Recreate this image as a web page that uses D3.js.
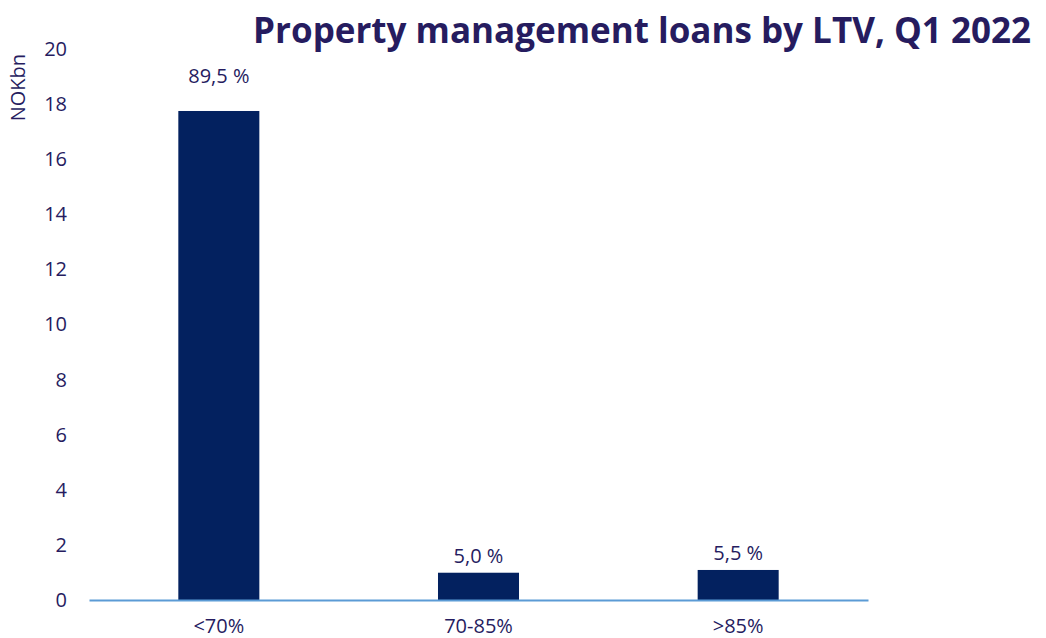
<!DOCTYPE html>
<html>
<head>
<meta charset="utf-8">
<script src="https://cdn.jsdelivr.net/npm/d3@7"></script>
<style>
  html, body { margin: 0; padding: 0; background: #ffffff; }
  svg { display: block; }
</style>
</head>
<body>
<svg id="chart" width="1046" height="638"></svg>
<script>
// LTV buckets and loan volumes (NOK bn), with each bucket's share of the total
const categories = ["<70%", "70-85%", ">85%"];
const volumes = [17.75, 0.99, 1.09];
const shares = ["89,5 %", "5,0 %", "5,5 %"];
const yTicks = [0, 2, 4, 6, 8, 10, 12, 14, 16, 18, 20];
const titleText = "Property management loans by LTV, Q1 2022";
const yAxisLabel = "NOKbn";

const W = 1046, H = 638;
const margin = { left: 89, right: 178, top: 49, bottom: 38 };
const textColor = "#261c5f";
const barColor = "#03215f";
const axisColor = "#5b9bd5";
const font = "'Open Sans', 'Liberation Sans', sans-serif";

const svg = d3.select("#chart");

const x = d3.scaleBand()
  .domain(categories)
  .range([margin.left, W - margin.right])
  .paddingInner(0.688)
  .paddingOuter(0.344);

const y = d3.scaleLinear()
  .domain([0, 20])
  .range([H - margin.bottom, margin.top]);

// Title
svg.append("text")
  .attr("x", 1031)
  .attr("y", 43)
  .attr("text-anchor", "end")
  .attr("font-family", font)
  .attr("font-weight", 700)
  .attr("font-size", 35)
  .attr("fill", textColor)
  .text(titleText);

// Y axis: labels only, no line or tick marks
const yAxis = d3.axisLeft(y).tickValues(yTicks).tickSize(0).tickPadding(22);
const gy = svg.append("g")
  .attr("transform", `translate(${margin.left},0)`)
  .call(yAxis);
gy.select(".domain").remove();
gy.selectAll("text")
  .attr("font-family", font)
  .attr("font-size", 20)
  .attr("fill", textColor);

// Y axis title
svg.append("text")
  .attr("transform", `translate(25,${y(18.6)}) rotate(-90)`)
  .attr("text-anchor", "middle")
  .attr("font-family", font)
  .attr("font-size", 20)
  .attr("fill", textColor)
  .text(yAxisLabel);

// Bars
svg.append("g")
  .selectAll("rect")
  .data(categories)
  .join("rect")
  .attr("x", d => x(d))
  .attr("width", x.bandwidth())
  .attr("y", (d, i) => y(volumes[i]))
  .attr("height", (d, i) => y(0) - y(volumes[i]))
  .attr("fill", barColor);

// Share labels above bars (the tall bar's label sits further up)
svg.append("g")
  .selectAll("text")
  .data(categories)
  .join("text")
  .attr("x", d => x(d) + x.bandwidth() / 2)
  .attr("y", (d, i) => y(volumes[i]) - (i === 0 ? 28 : 10))
  .attr("text-anchor", "middle")
  .attr("font-family", font)
  .attr("font-size", 20)
  .attr("fill", textColor)
  .text((d, i) => shares[i]);

// X axis: baseline line and category labels
const xAxis = d3.axisBottom(x).tickSize(0).tickPadding(19);
const gx = svg.append("g")
  .attr("transform", `translate(0,${y(0)})`)
  .call(xAxis);
gx.select(".domain")
  .attr("stroke", axisColor)
  .attr("stroke-width", 2);
gx.selectAll("text")
  .attr("font-family", font)
  .attr("font-size", 20)
  .attr("fill", textColor);
</script>
</body>
</html>
